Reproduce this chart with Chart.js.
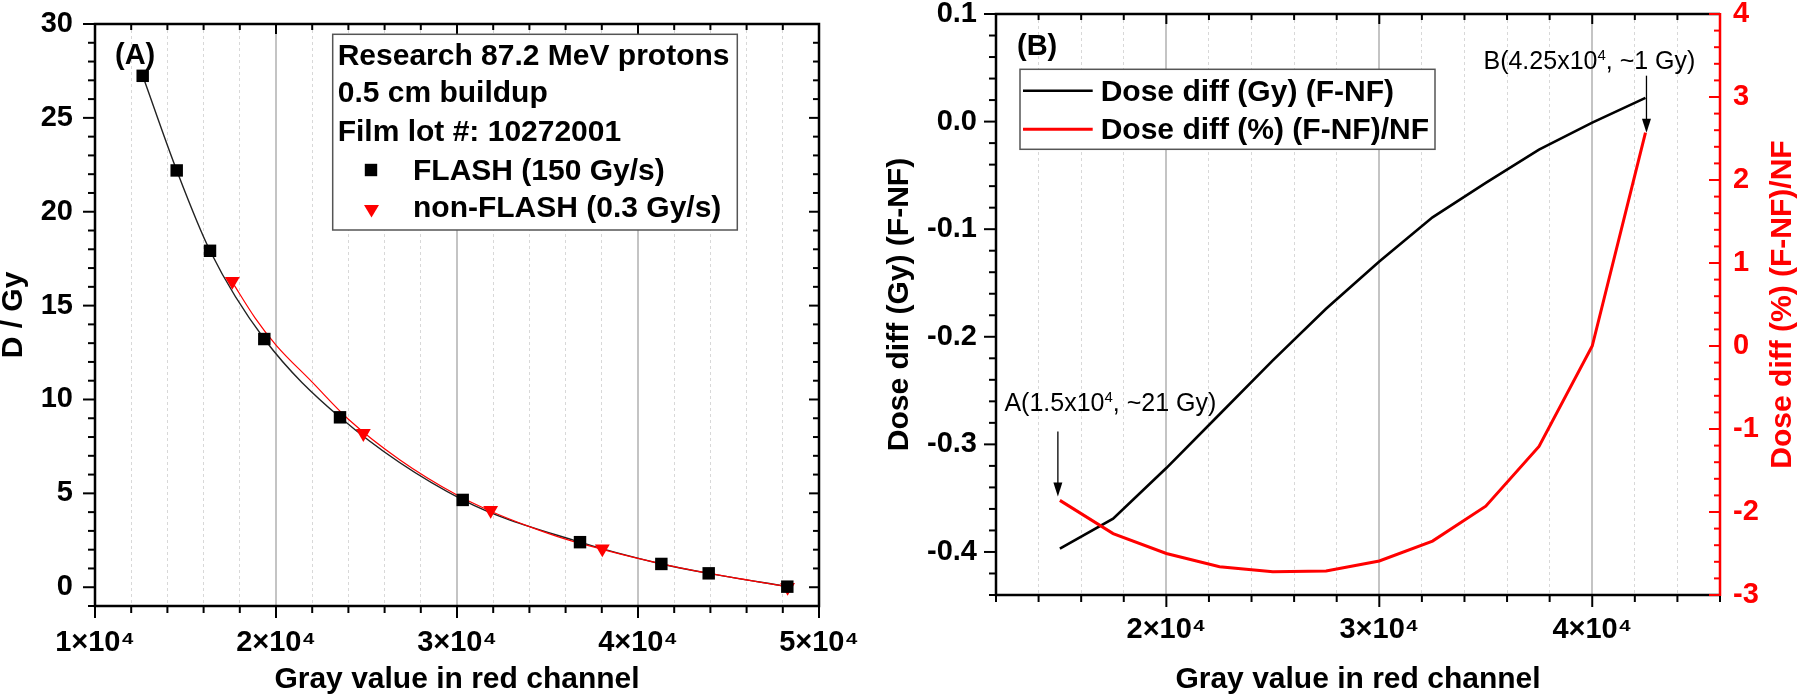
<!DOCTYPE html>
<html>
<head>
<meta charset="utf-8">
<script src="https://cdn.jsdelivr.net/npm/chart.js@4/dist/chart.umd.min.js"></script>
<style>
  html, body { margin: 0; padding: 0; background: #fff; }
  #wrap { position: relative; width: 1800px; height: 697px; overflow: hidden; }
  #ca { position: absolute; left: 0; top: 0; }
  #cb { position: absolute; left: 870px; top: 0; }
</style>
</head>
<body>
<div id="wrap">
  <canvas id="ca" width="870" height="697"></canvas>
  <canvas id="cb" width="930" height="697"></canvas>
</div>
<script>
const FONT = "'Liberation Sans', Arial, Helvetica, sans-serif";
const RED = '#ff0000';

// ---------- Panel A data (markers) ----------
const flashGray    = [12635, 14514, 16354, 19354, 23536, 30315, 36796, 41290, 43906, 48249];
const flashDose    = [27.24, 22.20, 17.92, 13.22, 9.05, 4.65, 2.40, 1.24, 0.74, 0.03];
const nonFlashGray = [17586, 24825, 31860, 38028, 48265];
const nonFlashDose = [16.30, 8.20, 4.10, 2.05, 0.00];
// ---------- Panel A fitted curves ----------
const flashFitGray    = [12635, 14514, 16354, 19354, 23536, 30315, 36796, 41290, 43906, 48249];
const flashFitDose    = [27.24, 22.20, 17.92, 13.22, 9.05, 4.65, 2.40, 1.24, 0.74, 0.03];
const nonFlashFitGray = [17586, 18840, 20000, 21972, 24000, 26851, 30000, 31860, 34000, 36000, 38028, 40000, 42690, 48265];
const nonFlashFitDose = [16.25, 14.35, 12.90, 10.95, 8.95, 6.78, 4.91, 4.05, 3.23, 2.56, 2.02, 1.54, 0.96, 0.02];

// ---------- Panel B data ----------
const diffGray = [15000, 17500, 20000, 22500, 25000, 27500, 30000, 32500, 35000, 37500, 40000, 42500];
const diffGy   = [-0.397, -0.369, -0.322, -0.272, -0.222, -0.174, -0.130, -0.089, -0.057, -0.026, -0.001, 0.022];
const diffPct  = [-1.86, -2.26, -2.50, -2.66, -2.72, -2.71, -2.59, -2.35, -1.93, -1.21, 0.00, 2.57];

// ---------- tick labels ----------
const grayTickValues = [10000, 20000, 30000, 40000, 50000];
const grayTickLabels = ['1×10⁴', '2×10⁴', '3×10⁴', '4×10⁴', '5×10⁴'];

// ---------- texts ----------
const legendAHeader = ['Research 87.2 MeV protons', '0.5 cm buildup', 'Film lot #: 10272001'];
const seriesA = ['FLASH (150 Gy/s)', 'non-FLASH (0.3 Gy/s)'];
const seriesB = ['Dose diff (Gy) (F-NF)', 'Dose diff (%) (F-NF)/NF'];

const pts = (xs, ys) => xs.map((x, i) => ({x, y: ys[i]}));
const isMajor = (v, step) => Math.abs(v / step - Math.round(v / step)) < 1e-6;
const grayLabel = (v) => {
  const i = grayTickValues.findIndex(t => Math.abs(t - v) < 1e-6);
  return i >= 0 ? grayTickLabels[i] : '';
};

function line(ctx, x1, y1, x2, y2, color, w) {
  ctx.beginPath();
  ctx.strokeStyle = color;
  ctx.lineWidth = w;
  ctx.moveTo(x1, y1);
  ctx.lineTo(x2, y2);
  ctx.stroke();
}

function arrowDown(ctx, x, y1, y2) {
  line(ctx, x, y1, x, y2 - 12, '#000', 1.3);
  ctx.beginPath();
  ctx.fillStyle = '#000';
  ctx.moveTo(x - 4.5, y2 - 14);
  ctx.lineTo(x + 4.5, y2 - 14);
  ctx.lineTo(x, y2);
  ctx.closePath();
  ctx.fill();
}

function supText(ctx, x, y, pre, sup, post, size) {
  ctx.font = size + 'px ' + FONT;
  ctx.fillStyle = '#000';
  ctx.textAlign = 'left';
  ctx.textBaseline = 'alphabetic';
  ctx.fillText(pre, x, y);
  let w = ctx.measureText(pre).width;
  ctx.font = Math.round(size * 0.6) + 'px ' + FONT;
  ctx.fillText(sup, x + w, y - size * 0.38);
  w += ctx.measureText(sup).width;
  ctx.font = size + 'px ' + FONT;
  ctx.fillText(post, x + w, y);
}

// ---------- Panel A plugin ----------
const decoA = {
  id: 'decoA',
  afterDraw(chart) {
    const {ctx, chartArea: a} = chart;
    const x = chart.scales.x, y = chart.scales.y;
    ctx.save();
    for (let v = 10000; v <= 50000; v += 2000) {
      const p = x.getPixelForValue(v);
      const M = isMajor(v, 10000);
      line(ctx, p, a.bottom, p, a.bottom + (M ? 12 : 7), '#000', 2);
      line(ctx, p, a.top, p, a.top + (M ? 10 : 6), '#000', 2);
    }
    for (let v = -1; v <= 30; v += 1) {
      const p = y.getPixelForValue(v);
      const M = v % 5 === 0;
      line(ctx, a.left - (M ? 12 : 7), p, a.left, p, '#000', 2);
      line(ctx, a.right - (M ? 10 : 6), p, a.right, p, '#000', 2);
    }
    ctx.strokeStyle = '#000';
    ctx.lineWidth = 2.5;
    ctx.strokeRect(a.left, a.top, a.right - a.left, a.bottom - a.top);

    ctx.fillStyle = '#000';
    ctx.font = 'bold 29px ' + FONT;
    ctx.textAlign = 'left';
    ctx.textBaseline = 'alphabetic';
    ctx.fillText('(A)', a.left + 20, a.top + 40);

    const bx = 332.7, by = 34.3, bw = 404.6, bh = 195.7;
    ctx.fillStyle = '#fff';
    ctx.fillRect(bx, by, bw, bh);
    ctx.strokeStyle = '#555';
    ctx.lineWidth = 1.5;
    ctx.strokeRect(bx, by, bw, bh);
    ctx.fillStyle = '#000';
    ctx.font = 'bold 30px ' + FONT;
    const base = [65, 102, 141, 179.5, 217];
    legendAHeader.forEach((t, i) => ctx.fillText(t, bx + 5, base[i]));
    ctx.fillText(seriesA[0], 413, base[3]);
    ctx.fillText(seriesA[1], 413, base[4]);
    ctx.fillStyle = '#000';
    ctx.fillRect(371 - 6.2, 170 - 6.2, 12.4, 12.4);
    ctx.fillStyle = RED;
    ctx.beginPath();
    ctx.moveTo(371.5 - 7.5, 205);
    ctx.lineTo(371.5 + 7.5, 205);
    ctx.lineTo(371.5, 217.5);
    ctx.closePath();
    ctx.fill();
    ctx.restore();
  }
};

const gridColor = (ctx, step) => isMajor(ctx.tick.value, step) ? '#c4c4c4' : '#d8d8d8';
const gridWidth = (ctx, step) => isMajor(ctx.tick.value, step) ? 2 : 1;
const gridDash = (ctx, step) => isMajor(ctx.tick.value, step) ? [] : [3, 3];

new Chart(document.getElementById('ca'), {
  type: 'scatter',
  data: {
    datasets: [
      { label: seriesA[0] + ' fit', data: pts(flashFitGray, flashFitDose), showLine: true,
        borderColor: '#222', borderWidth: 1.4, pointRadius: 0, cubicInterpolationMode: 'monotone', order: 2 },
      { label: seriesA[1] + ' fit', data: pts(nonFlashFitGray, nonFlashFitDose), showLine: true,
        borderColor: RED, borderWidth: 1.2, pointRadius: 0, cubicInterpolationMode: 'monotone', order: 1 },
      { label: seriesA[0], data: pts(flashGray, flashDose), showLine: false,
        pointStyle: 'rect', pointRadius: 8.8, backgroundColor: '#000', borderColor: '#000', borderWidth: 0, order: 0 },
      { label: seriesA[1], data: pts(nonFlashGray, nonFlashDose), showLine: false,
        pointStyle: 'triangle', rotation: 180, pointRadius: 8.6, backgroundColor: RED, borderColor: RED, borderWidth: 0, order: 0 }
    ]
  },
  options: {
    responsive: false, animation: false, events: [],
    layout: { padding: { top: 24, right: 51, left: 0, bottom: 0 } },
    plugins: { legend: { display: false }, tooltip: { enabled: false } },
    scales: {
      x: {
        type: 'linear', min: 10000, max: 50000,
        ticks: { stepSize: 2000, autoSkip: false, maxRotation: 0, minRotation: 0, padding: 0, includeBounds: false,
                 color: '#000', font: { family: FONT, size: 29, weight: 'bold' }, callback: grayLabel },
        grid: { drawTicks: true, tickLength: 20, tickWidth: 0, tickColor: 'rgba(0,0,0,0)',
                color: c => gridColor(c, 10000), lineWidth: c => gridWidth(c, 10000) },
        border: { display: false, dash: c => gridDash(c, 10000) },
        title: { display: true, text: 'Gray value in red channel', color: '#000',
                 font: { family: FONT, size: 30, weight: 'bold', lineHeight: 1 }, padding: { top: 0, bottom: 2 } },
        afterFit: s => { s.height = 91; }
      },
      y: {
        type: 'linear', min: -1, max: 30,
        ticks: { stepSize: 5, padding: 0, includeBounds: false, color: '#000',
                 font: { family: FONT, size: 29, weight: 'bold', lineHeight: 0.9 },
                 callback: v => (v % 5 === 0 ? String(v) : '') },
        grid: { display: false, drawTicks: true, tickLength: 22 },
        border: { display: false },
        title: { display: true, text: 'D / Gy', color: '#000',
                 font: { family: FONT, size: 30, weight: 'bold', lineHeight: 1 }, padding: { top: -1, bottom: 0 } },
        afterFit: s => { s.width = 95; }
      }
    }
  },
  plugins: [decoA]
});

// ---------- Panel B plugin ----------
const decoB = {
  id: 'decoB',
  afterDraw(chart) {
    const {ctx, chartArea: a} = chart;
    const x = chart.scales.x, y = chart.scales.y, y2 = chart.scales.y2;
    ctx.save();
    for (let v = 12000; v <= 46000; v += 2000) {
      const p = x.getPixelForValue(v);
      const M = isMajor(v, 10000);
      line(ctx, p, a.bottom, p, a.bottom + (M ? 12 : 7), '#000', 2);
      line(ctx, p, a.top, p, a.top + (M ? 10 : 6), '#000', 2);
    }
    for (let i = -22; i <= 5; i++) {
      const p = y.getPixelForValue(i * 0.02);
      const M = i % 5 === 0;
      line(ctx, a.left - (M ? 12 : 7), p, a.left, p, '#000', 2);
    }
    ctx.strokeStyle = '#000';
    ctx.lineWidth = 2.5;
    ctx.beginPath();
    ctx.moveTo(a.right, a.top);
    ctx.lineTo(a.left, a.top);
    ctx.lineTo(a.left, a.bottom);
    ctx.lineTo(a.right, a.bottom);
    ctx.stroke();
    for (let i = -15; i <= 20; i++) {
      const p = y2.getPixelForValue(i * 0.2);
      const M = i % 5 === 0;
      line(ctx, a.right - (M ? 11 : 6), p, a.right, p, RED, 2);
    }
    line(ctx, a.right, a.top - 1, a.right, a.bottom + 1, RED, 2.5);

    // right axis title (reads bottom to top)
    ctx.save();
    ctx.translate(913, (a.top + a.bottom) / 2);
    ctx.rotate(-Math.PI / 2);
    ctx.fillStyle = RED;
    ctx.font = 'bold 30px ' + FONT;
    ctx.textAlign = 'center';
    ctx.textBaseline = 'middle';
    ctx.fillText('Dose diff (%) (F-NF)/NF', 0, 0);
    ctx.restore();

    ctx.fillStyle = '#000';
    ctx.font = 'bold 29px ' + FONT;
    ctx.textAlign = 'left';
    ctx.textBaseline = 'alphabetic';
    ctx.fillText('(B)', a.left + 21, a.top + 41);

    const bx = 150, by = 69.3, bw = 415, bh = 80;
    ctx.fillStyle = '#fff';
    ctx.fillRect(bx, by, bw, bh);
    ctx.strokeStyle = '#555';
    ctx.lineWidth = 1.5;
    ctx.strokeRect(bx, by, bw, bh);
    line(ctx, 153, 90.7, 222.7, 90.7, '#000', 2.5);
    line(ctx, 153, 129.3, 222.7, 129.3, RED, 3);
    ctx.fillStyle = '#000';
    ctx.font = 'bold 30px ' + FONT;
    ctx.fillText(seriesB[0], 230.7, 100.5);
    ctx.fillText(seriesB[1], 230.7, 139);

    const ax = x.getPixelForValue(diffGray[0]) - 2;
    const ay = y2.getPixelForValue(diffPct[0]) - 4;
    arrowDown(ctx, ax, ay - 65, ay);
    supText(ctx, ax - 53.5, ay - 85, 'A(1.5x10', '4', ', ~21 Gy)', 25);

    const n = diffGray.length - 1;
    const bxp = x.getPixelForValue(diffGray[n]) + 1;
    const byp = y2.getPixelForValue(diffPct[n]);
    arrowDown(ctx, bxp, byp - 57, byp);
    supText(ctx, bxp - 163, byp - 63.5, 'B(4.25x10', '4', ', ~1 Gy)', 25);
    ctx.restore();
  }
};

new Chart(document.getElementById('cb'), {
  type: 'scatter',
  data: {
    datasets: [
      { label: seriesB[0], data: pts(diffGray, diffGy), showLine: true, yAxisID: 'y',
        borderColor: '#000', borderWidth: 2.6, pointRadius: 0, tension: 0, order: 1 },
      { label: seriesB[1], data: pts(diffGray, diffPct), showLine: true, yAxisID: 'y2',
        borderColor: RED, borderWidth: 3, pointRadius: 0, tension: 0, order: 0 }
    ]
  },
  options: {
    responsive: false, animation: false, events: [],
    layout: { padding: { top: 14, right: 0, left: 0, bottom: 0 } },
    plugins: { legend: { display: false }, tooltip: { enabled: false } },
    scales: {
      x: {
        type: 'linear', min: 12000, max: 46000,
        ticks: { stepSize: 2000, autoSkip: false, maxRotation: 0, minRotation: 0, padding: 0, includeBounds: false,
                 color: '#000', font: { family: FONT, size: 29, weight: 'bold' }, callback: grayLabel },
        grid: { drawTicks: true, tickLength: 18, tickWidth: 0, tickColor: 'rgba(0,0,0,0)',
                color: c => gridColor(c, 10000), lineWidth: c => gridWidth(c, 10000) },
        border: { display: false, dash: c => gridDash(c, 10000) },
        title: { display: true, text: 'Gray value in red channel', color: '#000',
                 font: { family: FONT, size: 30, weight: 'bold', lineHeight: 1 }, padding: { top: 0, bottom: 2 } },
        afterFit: s => { s.height = 102; }
      },
      y: {
        type: 'linear', position: 'left', min: -0.44, max: 0.1,
        ticks: { stepSize: 0.1, padding: 0, includeBounds: false, color: '#000',
                 font: { family: FONT, size: 29, weight: 'bold', lineHeight: 0.9 },
                 callback: v => (isMajor(v, 0.1) ? (Math.abs(v) < 1e-9 ? '0.0' : Number(v).toFixed(1)) : '') },
        grid: { display: false, drawTicks: true, tickLength: 19 },
        border: { display: false },
        title: { display: true, text: 'Dose diff (Gy) (F-NF)', color: '#000',
                 font: { family: FONT, size: 30, weight: 'bold', lineHeight: 1 }, padding: { top: 15, bottom: 0 } },
        afterFit: s => { s.width = 126; }
      },
      y2: {
        type: 'linear', position: 'right', min: -3, max: 4,
        ticks: { stepSize: 1, padding: 0, includeBounds: false, color: RED,
                 font: { family: FONT, size: 29, weight: 'bold', lineHeight: 0.9 },
                 callback: v => String(v) },
        grid: { display: false, drawTicks: true, tickLength: 13 },
        border: { display: false },
        title: { display: false },
        afterFit: s => { s.width = 80; }
      }
    }
  },
  plugins: [decoB]
});
</script>
</body>
</html>
